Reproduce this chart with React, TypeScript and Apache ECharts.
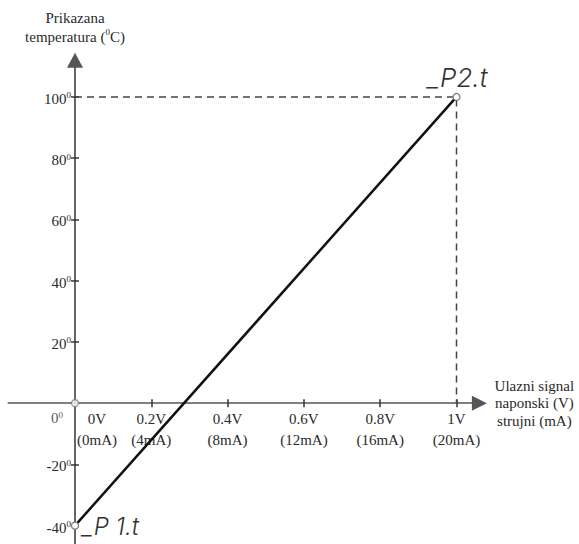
import React, { useEffect, useRef } from "react";
import * as echarts from "echarts";

// ---- data ----
const xTickValues = [0, 0.2, 0.4, 0.6, 0.8, 1];
const voltLabels = ["0V", "0.2V", "0.4V", "0.6V", "0.8V", "1V"];
const currentLabels = ["(0mA)", "(4mA)", "(8mA)", "(12mA)", "(16mA)", "(20mA)"];
const yLabelValues = [-40, -20, 20, 40, 60, 80, 100];
const yTickValues = [-20, 20, 40, 60, 80, 100];
const xMarkValues = [0.2, 0.4, 0.6, 0.8, 1];
const signal = [0, 1];
const temperature = [-40, 100];
const pointLabels = ["_P 1.t", "_P2.t"];
const guide = [
  [0, 100],
  [1, 100],
  [1, 0],
];

const SERIF = "'Liberation Serif', 'Times New Roman', serif";
const TXT = "#2a2a2a";
const AXIS = "#555";

// axis ranges
const X_MIN = -0.175;
const X_MAX = 1.06;
const Y_MIN = -46;
const Y_MAX = 112;

export default function App() {
  const ref = useRef<HTMLDivElement>(null);

  useEffect(() => {
    if (!ref.current) return;
    const chart = echarts.init(ref.current, null, { renderer: "svg" });

    const W = 579;
    const H = 544;
    const gridLeft = 8.24;
    const gridRight = 99.6;
    const gridTop = 60.2;
    const gridBottom = 0;
    const gw = W - gridLeft - gridRight;
    const gh = H - gridTop - gridBottom;
    // shift axes from the grid edges onto the zero lines
    const xOffset = -((0 - Y_MIN) / (Y_MAX - Y_MIN)) * gh;
    const yOffset = -((0 - X_MIN) / (X_MAX - X_MIN)) * gw;

    const supRich = {
      n: { fontSize: 15, fontFamily: SERIF, color: TXT, lineHeight: 16 },
      s: { fontSize: 9, fontFamily: SERIF, color: TXT, lineHeight: 9, verticalAlign: "top" },
    };

    const pointStyle = { color: "#fff", borderColor: "#777", borderWidth: 1.2 };
    const lcdLabel = {
      show: true,
      fontFamily: "Inter, 'DejaVu Sans', sans-serif",
      fontWeight: 300,
      fontStyle: "italic",
      fontSize: 26,
      color: "#333",
    };

    const option: any = {
      animation: false,
      backgroundColor: "#fff",
      grid: {
        left: gridLeft,
        right: gridRight,
        top: gridTop,
        bottom: gridBottom,
        containLabel: false,
        outerBoundsMode: "none",
      },
      xAxis: [
        {
          type: "value",
          min: X_MIN,
          max: X_MAX,
          position: "bottom",
          offset: xOffset,
          name: "Ulazni signal\nnaponski (V)\nstrujni (mA)",
          nameLocation: "end",
          nameGap: 55,
          nameTextStyle: {
            fontFamily: SERIF,
            fontSize: 15,
            color: TXT,
            align: "center",
            verticalAlign: "middle",
            lineHeight: 17.5,
            padding: [0, 0, 20, 0],
          },
          axisLine: {
            show: true,
            onZero: false,
            symbol: ["none", "triangle"],
            symbolSize: [15, 15],
            lineStyle: { color: AXIS, width: 1.6 },
          },
          axisTick: {
            show: true,
            inside: false,
            length: 4,
            customValues: xMarkValues,
            lineStyle: { color: "#333", width: 1.5 },
          },
          axisLabel: {
            show: true,
            customValues: xTickValues,
            margin: 5,
            fontFamily: SERIF,
            fontSize: 15,
            color: TXT,
            lineHeight: 21,
            formatter: (v: number) => {
              let idx = 0;
              xTickValues.forEach((t, i) => {
                if (Math.abs(t - v) < 1e-6) idx = i;
              });
              if (idx === 0) return `{o|${voltLabels[0]}}\n{o|${currentLabels[0]}}`;
              return `${voltLabels[idx]}\n${currentLabels[idx]}`;
            },
            rich: {
              o: {
                fontFamily: SERIF,
                fontSize: 15,
                color: TXT,
                lineHeight: 21,
                padding: [0, 0, 0, 44],
              },
            },
          },
          splitLine: { show: false },
        },
        {
          type: "value",
          min: X_MIN,
          max: X_MAX,
          position: "bottom",
          offset: xOffset,
          axisLine: { show: false, onZero: false },
          axisTick: {
            show: true,
            inside: true,
            length: 4,
            customValues: xMarkValues,
            lineStyle: { color: "#333", width: 1.5 },
          },
          axisLabel: { show: false },
          splitLine: { show: false },
        },
      ],
      yAxis: [
        {
          type: "value",
          min: Y_MIN,
          max: Y_MAX,
          position: "left",
          offset: yOffset,
          name: "{a|Prikazana}\n{a|temperatura (}{s|0}{a|C)}",
          nameLocation: "end",
          nameGap: 13.5,
          nameTextStyle: {
            align: "center",
            verticalAlign: "bottom",
            rich: {
              a: { fontSize: 15, fontFamily: SERIF, color: TXT, lineHeight: 19 },
              s: { fontSize: 9, fontFamily: SERIF, color: TXT, lineHeight: 9, verticalAlign: "top" },
            },
          },
          axisLine: {
            show: true,
            onZero: false,
            symbol: ["none", "triangle"],
            symbolSize: [16, 15],
            lineStyle: { color: AXIS, width: 1.8 },
          },
          axisTick: {
            show: true,
            inside: false,
            length: 4,
            customValues: yTickValues,
            lineStyle: { color: "#333", width: 1.5 },
          },
          axisLabel: {
            show: true,
            customValues: yLabelValues,
            margin: 4,
            padding: [4, 0, 0, 0],
            formatter: (v: number) => `{n|${v}}{s|0}`,
            rich: supRich,
          },
          splitLine: { show: false },
        },
        {
          type: "value",
          min: Y_MIN,
          max: Y_MAX,
          position: "left",
          offset: yOffset,
          axisLine: { show: false, onZero: false },
          axisTick: {
            show: true,
            inside: true,
            length: 4,
            customValues: yTickValues,
            lineStyle: { color: "#333", width: 1.5 },
          },
          axisLabel: { show: false },
          splitLine: { show: false },
        },
      ],
      series: [
        {
          type: "line",
          xAxisIndex: 0,
          yAxisIndex: 0,
          data: guide,
          symbol: "none",
          silent: true,
          z: 1,
          lineStyle: { color: "#444", width: 1.5, type: [7, 5] },
        },
        {
          type: "line",
          xAxisIndex: 0,
          yAxisIndex: 0,
          z: 3,
          symbol: "circle",
          symbolSize: 7,
          showSymbol: true,
          lineStyle: { color: "#111", width: 2.5 },
          itemStyle: pointStyle,
          data: signal.map((s, i) => ({
            value: [s, temperature[i]],
            label:
              i === 0
                ? { ...lcdLabel, fontSize: 24, formatter: pointLabels[0], position: "right", distance: 3, offset: [0, 1] }
                : { ...lcdLabel, formatter: pointLabels[1], position: "top", distance: 3, offset: [1, 1] },
          })),
        },
        {
          type: "scatter",
          xAxisIndex: 0,
          yAxisIndex: 0,
          z: 4,
          symbol: "circle",
          symbolSize: 7,
          itemStyle: pointStyle,
          data: [[0, 0]],
          label: {
            show: true,
            position: "left",
            distance: 8,
            offset: [0, 15],
            formatter: "{n|0}{s|0}",
            rich: supRich,
          },
        },
      ],
    };

    chart.setOption(option);
    return () => chart.dispose();
  }, []);

  return (
    <div
      ref={ref}
      style={{ position: "fixed", left: 0, top: 0, width: 579, height: 544, background: "#fff" }}
    />
  );
}
